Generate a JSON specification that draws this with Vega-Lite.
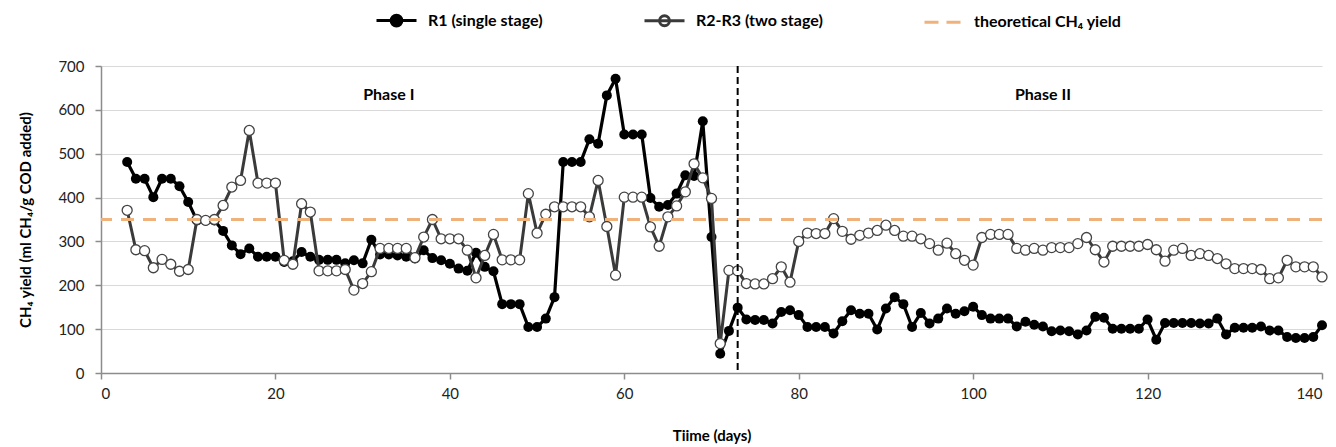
{
"$schema":"https://vega.github.io/schema/vega-lite/v6.json",
"width":1221,"height":307,
"autosize":{"type":"none"},
"padding":{"left":101,"top":66,"right":14,"bottom":74},
"background":"#ffffff",
"config":{"font":"Lato","view":{"stroke":null},
 "axis":{"labelFont":"Lato","labelFontSize":15,"labelColor":"#222222","titleFont":"Lato","titleFontSize":15,"titleFontWeight":"bold","titleColor":"#000000","domainColor":"#8c8c8c","domainWidth":1.5,"tickColor":"#8c8c8c","tickWidth":1.5,"tickSize":6,"gridColor":"#d9d9d9","gridWidth":1}
},
"datasets":{
"r1":[{"day":3,"value":481},{"day":4,"value":443},{"day":5,"value":443},{"day":6,"value":401},{"day":7,"value":443},{"day":8,"value":443},{"day":9,"value":426},{"day":10,"value":390},{"day":11,"value":348},{"day":12,"value":347},{"day":13,"value":348},{"day":14,"value":324},{"day":15,"value":291},{"day":16,"value":271},{"day":17,"value":284},{"day":18,"value":265},{"day":19,"value":265},{"day":20,"value":265},{"day":21,"value":253},{"day":22,"value":255},{"day":23,"value":276},{"day":24,"value":265},{"day":25,"value":258},{"day":26,"value":258},{"day":27,"value":258},{"day":28,"value":250},{"day":29,"value":257},{"day":30,"value":250},{"day":31,"value":304},{"day":32,"value":270},{"day":33,"value":270},{"day":34,"value":268},{"day":35,"value":265},{"day":36,"value":261},{"day":37,"value":280},{"day":38,"value":262},{"day":39,"value":257},{"day":40,"value":249},{"day":41,"value":238},{"day":42,"value":233},{"day":43,"value":274},{"day":44,"value":242},{"day":45,"value":232},{"day":46,"value":157},{"day":47,"value":157},{"day":48,"value":157},{"day":49,"value":105},{"day":50,"value":105},{"day":51,"value":124},{"day":52,"value":173},{"day":53,"value":481},{"day":54,"value":481},{"day":55,"value":481},{"day":56,"value":533},{"day":57,"value":523},{"day":58,"value":633},{"day":59,"value":671},{"day":60,"value":544},{"day":61,"value":544},{"day":62,"value":544},{"day":63,"value":399},{"day":64,"value":379},{"day":65,"value":383},{"day":66,"value":409},{"day":67,"value":451},{"day":68,"value":449},{"day":69,"value":574},{"day":70,"value":310},{"day":71,"value":44},{"day":72,"value":96},{"day":73,"value":149},{"day":74,"value":122},{"day":75,"value":121},{"day":76,"value":121},{"day":77,"value":113},{"day":78,"value":139},{"day":79,"value":143},{"day":80,"value":132},{"day":81,"value":105},{"day":82,"value":105},{"day":83,"value":105},{"day":84,"value":90},{"day":85,"value":118},{"day":86,"value":143},{"day":87,"value":135},{"day":88,"value":135},{"day":89,"value":99},{"day":90,"value":147},{"day":91,"value":173},{"day":92,"value":157},{"day":93,"value":105},{"day":94,"value":137},{"day":95,"value":113},{"day":96,"value":124},{"day":97,"value":147},{"day":98,"value":135},{"day":99,"value":141},{"day":100,"value":151},{"day":101,"value":132},{"day":102,"value":124},{"day":103,"value":124},{"day":104,"value":124},{"day":105,"value":106},{"day":106,"value":117},{"day":107,"value":110},{"day":108,"value":106},{"day":109,"value":95},{"day":110,"value":97},{"day":111,"value":95},{"day":112,"value":88},{"day":113,"value":97},{"day":114,"value":128},{"day":115,"value":126},{"day":116,"value":101},{"day":117,"value":101},{"day":118,"value":101},{"day":119,"value":101},{"day":120,"value":122},{"day":121,"value":76},{"day":122,"value":114},{"day":123,"value":114},{"day":124,"value":114},{"day":125,"value":114},{"day":126,"value":113},{"day":127,"value":113},{"day":128,"value":124},{"day":129,"value":88},{"day":130,"value":103},{"day":131,"value":103},{"day":132,"value":103},{"day":133,"value":106},{"day":134,"value":97},{"day":135,"value":97},{"day":136,"value":82},{"day":137,"value":80},{"day":138,"value":80},{"day":139,"value":82},{"day":140,"value":109}],
"r2":[{"day":3,"value":371},{"day":4,"value":281},{"day":5,"value":279},{"day":6,"value":240},{"day":7,"value":259},{"day":8,"value":248},{"day":9,"value":232},{"day":10,"value":236},{"day":11,"value":350},{"day":12,"value":348},{"day":13,"value":350},{"day":14,"value":382},{"day":15,"value":424},{"day":16,"value":439},{"day":17,"value":553},{"day":18,"value":433},{"day":19,"value":433},{"day":20,"value":433},{"day":21,"value":257},{"day":22,"value":248},{"day":23,"value":386},{"day":24,"value":367},{"day":25,"value":233},{"day":26,"value":233},{"day":27,"value":233},{"day":28,"value":236},{"day":29,"value":189},{"day":30,"value":204},{"day":31,"value":231},{"day":32,"value":284},{"day":33,"value":284},{"day":34,"value":284},{"day":35,"value":284},{"day":36,"value":263},{"day":37,"value":310},{"day":38,"value":350},{"day":39,"value":306},{"day":40,"value":306},{"day":41,"value":306},{"day":42,"value":280},{"day":43,"value":217},{"day":44,"value":268},{"day":45,"value":316},{"day":46,"value":258},{"day":47,"value":258},{"day":48,"value":258},{"day":49,"value":409},{"day":50,"value":319},{"day":51,"value":362},{"day":52,"value":379},{"day":53,"value":379},{"day":54,"value":379},{"day":55,"value":379},{"day":56,"value":356},{"day":57,"value":439},{"day":58,"value":334},{"day":59,"value":223},{"day":60,"value":401},{"day":61,"value":401},{"day":62,"value":401},{"day":63,"value":333},{"day":64,"value":289},{"day":65,"value":356},{"day":66,"value":381},{"day":67,"value":413},{"day":68,"value":477},{"day":69,"value":445},{"day":70,"value":398},{"day":71,"value":67},{"day":72,"value":234},{"day":73,"value":233},{"day":74,"value":204},{"day":75,"value":203},{"day":76,"value":203},{"day":77,"value":215},{"day":78,"value":242},{"day":79,"value":207},{"day":80,"value":300},{"day":81,"value":319},{"day":82,"value":318},{"day":83,"value":318},{"day":84,"value":352},{"day":85,"value":323},{"day":86,"value":305},{"day":87,"value":314},{"day":88,"value":319},{"day":89,"value":325},{"day":90,"value":337},{"day":91,"value":325},{"day":92,"value":312},{"day":93,"value":312},{"day":94,"value":306},{"day":95,"value":295},{"day":96,"value":280},{"day":97,"value":296},{"day":98,"value":272},{"day":99,"value":257},{"day":100,"value":246},{"day":101,"value":309},{"day":102,"value":316},{"day":103,"value":316},{"day":104,"value":316},{"day":105,"value":284},{"day":106,"value":280},{"day":107,"value":284},{"day":108,"value":280},{"day":109,"value":286},{"day":110,"value":286},{"day":111,"value":286},{"day":112,"value":295},{"day":113,"value":309},{"day":114,"value":281},{"day":115,"value":253},{"day":116,"value":289},{"day":117,"value":289},{"day":118,"value":289},{"day":119,"value":289},{"day":120,"value":293},{"day":121,"value":281},{"day":122,"value":255},{"day":123,"value":280},{"day":124,"value":284},{"day":125,"value":268},{"day":126,"value":272},{"day":127,"value":268},{"day":128,"value":261},{"day":129,"value":249},{"day":130,"value":238},{"day":131,"value":238},{"day":132,"value":238},{"day":133,"value":236},{"day":134,"value":215},{"day":135,"value":217},{"day":136,"value":257},{"day":137,"value":242},{"day":138,"value":242},{"day":139,"value":242},{"day":140,"value":219}],
"theory":[{"series":"theoretical CH₄ yield","value":350}],
"divider":[{"day":73}],
"phases":[{"day":33,"value":633,"label":"Phase I"},{"day":108,"value":633,"label":"Phase II"}]
},
"layer":[
{"data":{"name":"r1"},
 "mark":{"type":"line","strokeWidth":3.2,"color":"#000000"},
 "encoding":{
  "x":{"field":"day","type":"quantitative","scale":{"domain":[0,140],"nice":false,"zero":false},"axis":{"values":[0,20,40,60,80,100,120,140],"grid":false,"title":"Tiime (days)","labelPadding":7,"titlePadding":27}},
  "y":{"field":"value","type":"quantitative","scale":{"domain":[0,700],"nice":false},"axis":{"values":[0,100,200,300,400,500,600,700],"grid":true,"title":"CH₄ yield (ml CH₄/g COD added)","labelPadding":11,"titlePadding":24}}
 }},
{"data":{"name":"r1"},
 "mark":{"type":"point","filled":true,"size":100,"color":"#000000","opacity":1},
 "encoding":{"x":{"field":"day","type":"quantitative"},"y":{"field":"value","type":"quantitative"}}},
{"data":{"name":"r2"},
 "mark":{"type":"line","strokeWidth":3,"color":"#3a3a3a"},
 "encoding":{"x":{"field":"day","type":"quantitative"},"y":{"field":"value","type":"quantitative"}}},
{"data":{"name":"r2"},
 "mark":{"type":"point","filled":false,"fill":"#ffffff","fillOpacity":1,"stroke":"#444444","strokeWidth":1.3,"size":100,"opacity":1},
 "encoding":{"x":{"field":"day","type":"quantitative"},"y":{"field":"value","type":"quantitative"}}},
{"data":{"name":"theory"},
 "mark":{"type":"rule","strokeWidth":3,"strokeDash":[13,9]},
 "encoding":{"y":{"field":"value","type":"quantitative"},
  "color":{"field":"series","type":"nominal","scale":{"domain":["R1 (single stage)","R2-R3 (two stage)","theoretical CH₄ yield"],"range":["#000000","#3a3a3a","#eeb27a"]},
   "legend":{"orient":"none","legendX":274,"legendY":-67,"direction":"horizontal","title":null,"symbolSize":1600,"symbolStrokeWidth":3,"labelFont":"Lato","labelFontSize":16,"labelFontWeight":"bold","labelColor":"#000000","labelOffset":10,"columnPadding":95,
   "encode":{"symbols":{"update":{
     "shape":{"signal":"datum.value==='R1 (single stage)'?'M-1,0H1M-0.27,0A0.27,0.27 0 1,1 0.27,0A0.27,0.27 0 1,1 -0.27,0Z':datum.value==='R2-R3 (two stage)'?'M-1,0H1M-0.25,0A0.25,0.25 0 1,1 0.25,0A0.25,0.25 0 1,1 -0.25,0Z':'M-0.9,0H-0.2M0.2,0H0.9'"},
     "fill":{"signal":"datum.value==='R1 (single stage)'?'#000000':datum.value==='R2-R3 (two stage)'?'#ffffff':'transparent'"},
     "stroke":{"signal":"datum.value==='R1 (single stage)'?'#000000':datum.value==='R2-R3 (two stage)'?'#3a3a3a':'#eeb27a'"},
     "strokeDash":{"value":[100,0]},
     "strokeWidth":{"value":3},
     "opacity":{"value":1},
     "fillOpacity":{"value":1}
   }}}}}
 }},
{"data":{"name":"divider"},
 "mark":{"type":"rule","color":"#000000","strokeWidth":2,"strokeDash":[7,4]},
 "encoding":{"x":{"field":"day","type":"quantitative"}}},
{"data":{"name":"phases"},
 "mark":{"type":"text","font":"Lato","fontSize":16,"fontWeight":"bold","color":"#000000","align":"center","baseline":"middle"},
 "encoding":{"x":{"field":"day","type":"quantitative"},"y":{"field":"value","type":"quantitative"},"text":{"field":"label"}}}
]
}
